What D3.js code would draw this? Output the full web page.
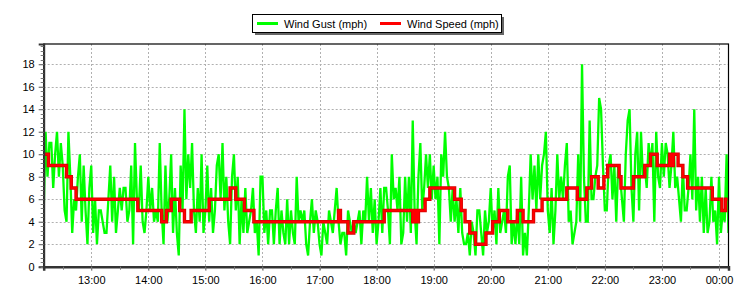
<!DOCTYPE html>
<html>
<head>
<meta charset="utf-8">
<script src="https://cdn.jsdelivr.net/npm/d3@7"></script>
<style>
body { margin: 0; background: #fff; }
svg { font-family: "Liberation Sans", Arial, sans-serif; }
</style>
</head>
<body>
<div class="view"></div>
<script>
var width = 750;
var height = 300;

// gust readings, one every 2 minutes starting 12:10
var gustStart = "12:10";
var gustStepMinutes = 2;
var gust = [
    5,12,8,11,11,7,10,12,8,11,9,5,4,12,8,3,6,5,8,10,4,9,5,2,7,9,3,6,2,5,5,4,3,3,6,9,4,8,3,5,7,5,7,7,4,5,9,2,11,6,5,9,4,
    3,5,8,5,7,4,5,4,11,5,2,9,4,6,10,3,7,3,1,9,5,14,6,10,7,11,5,3,7,4,10,3,5,9,4,7,3,5,9,10,6,11,5,8,4,2,8,10,5,8,2,6,
    3,7,3,4,5,7,3,4,1,8,8,3,5,2,5,5,2,5,7,2,5,3,2,6,2,5,3,2,8,4,5,4,5,2,1,4,6,3,5,4,2,1,4,3,2,5,4,3,5,7,4,2,3,
    3,1,5,4,3,4,3,4,5,2,5,4,8,4,7,3,6,2,4,7,3,7,7,5,2,10,6,7,5,8,2,3,8,4,8,3,13,5,2,8,11,5,7,10,7,10,6,9,6,8,2,10,8,
    12,8,7,4,7,4,6,3,7,3,2,2,3,1,4,3,1,5,5,3,1,5,3,4,7,3,5,2,7,3,4,5,3,8,9,2,4,2,5,2,8,1,3,1,5,10,6,9,5,10,6,9,10,
    12,5,3,7,2,5,10,6,8,6,9,11,4,5,2,3,4,10,4,18,8,4,4,13,6,6,8,9,15,14,9,5,5,9,10,6,9,4,9,8,6,4,10,13,14,7,4,10,12,5,12,8,
    9,7,11,9,11,4,12,8,7,11,8,11,10,7,9,12,7,8,6,4,9,5,5,7,10,6,14,5,8,4,8,3,7,3,4,8,4,5,2,8,3,5,4,10,3
];

// wind speed changes (time it changes, new value)
var speedTimes = ["12:10","12:15","12:34","12:39","12:44","13:49","14:14","14:19","14:24","14:33",
    "14:38","14:45","15:04","15:26","15:32","15:41","15:51","17:20","17:22","17:30",
    "17:36","18:08","18:38","18:40","18:42","18:44","18:51","18:56","19:22","19:29",
    "19:33","19:38","19:44","19:55","20:02","20:09","20:18","20:28","20:34","20:45",
    "20:54","21:20","21:31","21:41","21:46","21:53","21:59","22:03","22:15","22:17",
    "22:30","22:42","22:48","22:55","23:08","23:10","23:12","23:17","23:22","23:27",
    "23:53","00:03","00:07","00:09"];
var speedValues = [10,9,8,7,6,5,4,5,6,5,
    4,5,6,7,6,5,4,5,4,3,
    4,5,4,5,4,5,6,7,6,5,
    4,3,2,3,4,5,4,5,4,5,
    6,7,6,7,8,7,8,9,8,7,
    8,9,10,9,10,9,10,9,8,7,
    6,5,6,6];

var domainTimes = ["12:10", "00:10"];
var yTicks = [0, 2, 4, 6, 8, 10, 12, 14, 16, 18];
var seriesNames = ["Wind Gust (mph)", "Wind Speed (mph)"];
var seriesColors = ["#00ff00", "#ff0000"];

var plot = {left: 43.7, right: 728.5, top: 44, bottom: 266.7};

var parseHM = d3.timeParse("%H:%M");
function toTime(s) {
    var t = parseHM(s);
    if (t.getHours() < 12) t = d3.timeDay.offset(t, 1);
    return t;
}

var t0 = toTime(gustStart);
var gustData = gust.map(function (v, i) {
    return {t: d3.timeMinute.offset(t0, i * gustStepMinutes), v: v};
});
var speedData = speedTimes.map(function (s, i) {
    return {t: toTime(s), v: speedValues[i]};
});

var svg = d3.select(".view")
    .append("svg")
    .attr("width", width)
    .attr("height", height);

var x = d3.scaleTime()
    .domain(domainTimes.map(toTime))
    .range([plot.left, plot.right]);

var y = d3.scaleLinear()
    .domain([0, 19.8])
    .range([plot.bottom, plot.top]);

// grid
var hourTicks = x.ticks(d3.timeHour.every(1));
svg.append("g")
    .selectAll("line")
    .data(hourTicks)
    .enter().append("line")
    .attr("x1", function (d) { return Math.round(x(d)) + 0.5; })
    .attr("x2", function (d) { return Math.round(x(d)) + 0.5; })
    .attr("y1", plot.top)
    .attr("y2", plot.bottom)
    .attr("stroke", "#b0b0b0")
    .attr("stroke-dasharray", "2,2");

svg.append("g")
    .selectAll("line")
    .data(yTicks.slice(1))
    .enter().append("line")
    .attr("x1", plot.left)
    .attr("x2", plot.right)
    .attr("y1", function (d) { return Math.round(y(d)) + 0.5; })
    .attr("y2", function (d) { return Math.round(y(d)) + 0.5; })
    .attr("stroke", "#b0b0b0")
    .attr("stroke-dasharray", "2,2");

svg.append("clipPath")
    .attr("id", "clip")
    .append("rect")
    .attr("x", plot.left)
    .attr("y", plot.top)
    .attr("width", plot.right - plot.left)
    .attr("height", plot.bottom - plot.top);

var gustLine = d3.line()
    .x(function (d) { return x(d.t); })
    .y(function (d) { return y(d.v); });

var speedLine = d3.line()
    .curve(d3.curveStepAfter)
    .x(function (d) { return x(d.t); })
    .y(function (d) { return y(d.v); });

svg.append("path")
    .datum(gustData)
    .attr("clip-path", "url(#clip)")
    .attr("fill", "none")
    .attr("stroke", seriesColors[0])
    .attr("stroke-width", 2.3)
    .attr("stroke-linejoin", "miter")
    .attr("d", gustLine);

svg.append("path")
    .datum(speedData)
    .attr("clip-path", "url(#clip)")
    .attr("fill", "none")
    .attr("stroke", "#d00000")
    .attr("stroke-width", 3.4)
    .attr("d", speedLine);

svg.append("path")
    .datum(speedData)
    .attr("clip-path", "url(#clip)")
    .attr("fill", "none")
    .attr("stroke", seriesColors[1])
    .attr("stroke-width", 2)
    .attr("d", speedLine);

// frame
svg.append("rect")
    .attr("x", plot.left)
    .attr("y", plot.top)
    .attr("width", plot.right - plot.left)
    .attr("height", plot.bottom - plot.top)
    .attr("fill", "none")
    .attr("stroke", "#000")
    .attr("stroke-width", 1.2);

// y axis
var yAxis = svg.append("g")
    .attr("transform", "translate(" + plot.left + ",0)")
    .call(d3.axisLeft(y).tickValues(yTicks).tickSize(5).tickPadding(4));
yAxis.select(".domain").attr("stroke", "#333").attr("stroke-width", 2);
yAxis.selectAll("text").attr("font-size", 11).attr("fill", "#000")
    .attr("font-family", "Liberation Sans, Arial, sans-serif");
yAxis.selectAll(".tick line").attr("stroke", "#555");

svg.append("g")
    .selectAll("line")
    .data(d3.range(0, 19.8, 0.4))
    .enter().append("line")
    .attr("x1", plot.left - 3)
    .attr("x2", plot.left)
    .attr("y1", function (d) { return Math.round(y(d)) + 0.5; })
    .attr("y2", function (d) { return Math.round(y(d)) + 0.5; })
    .attr("stroke", "#777");

// x axis
var xAxis = svg.append("g")
    .attr("transform", "translate(0," + plot.bottom + ")")
    .call(d3.axisBottom(x).ticks(d3.timeHour.every(1))
        .tickFormat(d3.timeFormat("%H:%M")).tickSize(4).tickPadding(6));
xAxis.select(".domain").attr("stroke", "#333").attr("stroke-width", 2.5);
xAxis.selectAll("text").attr("font-size", 11).attr("fill", "#000")
    .attr("font-family", "Liberation Sans, Arial, sans-serif");
xAxis.selectAll(".tick line").attr("stroke", "#666");

svg.append("g")
    .selectAll("line")
    .data(x.ticks(d3.timeMinute.every(30)))
    .enter().append("line")
    .attr("x1", function (d) { return Math.round(x(d)) + 0.5; })
    .attr("x2", function (d) { return Math.round(x(d)) + 0.5; })
    .attr("y1", plot.bottom)
    .attr("y2", plot.bottom + 3)
    .attr("stroke", "#777");

// legend
var legend = svg.append("g").attr("transform", "translate(252,14)");
legend.append("rect")
    .attr("x", 3).attr("y", 3)
    .attr("width", 249).attr("height", 18)
    .attr("fill", "#666");
legend.append("rect")
    .attr("x", 0.5).attr("y", 0.5)
    .attr("width", 249).attr("height", 18)
    .attr("fill", "#fff")
    .attr("stroke", "#000");

var itemX = [5, 128];
var item = legend.selectAll(".item")
    .data(seriesNames)
    .enter().append("g")
    .attr("transform", function (d, i) { return "translate(" + itemX[i] + ",0)"; });
item.append("line")
    .attr("x1", 0).attr("x2", 21)
    .attr("y1", 9.5).attr("y2", 9.5)
    .attr("stroke", function (d, i) { return seriesColors[i]; })
    .attr("stroke-width", 3);
item.append("text")
    .attr("x", 27)
    .attr("y", 13.5)
    .attr("font-size", 11)
    .attr("fill", "#000")
    .text(function (d) { return d; });
</script>
</body>
</html>
